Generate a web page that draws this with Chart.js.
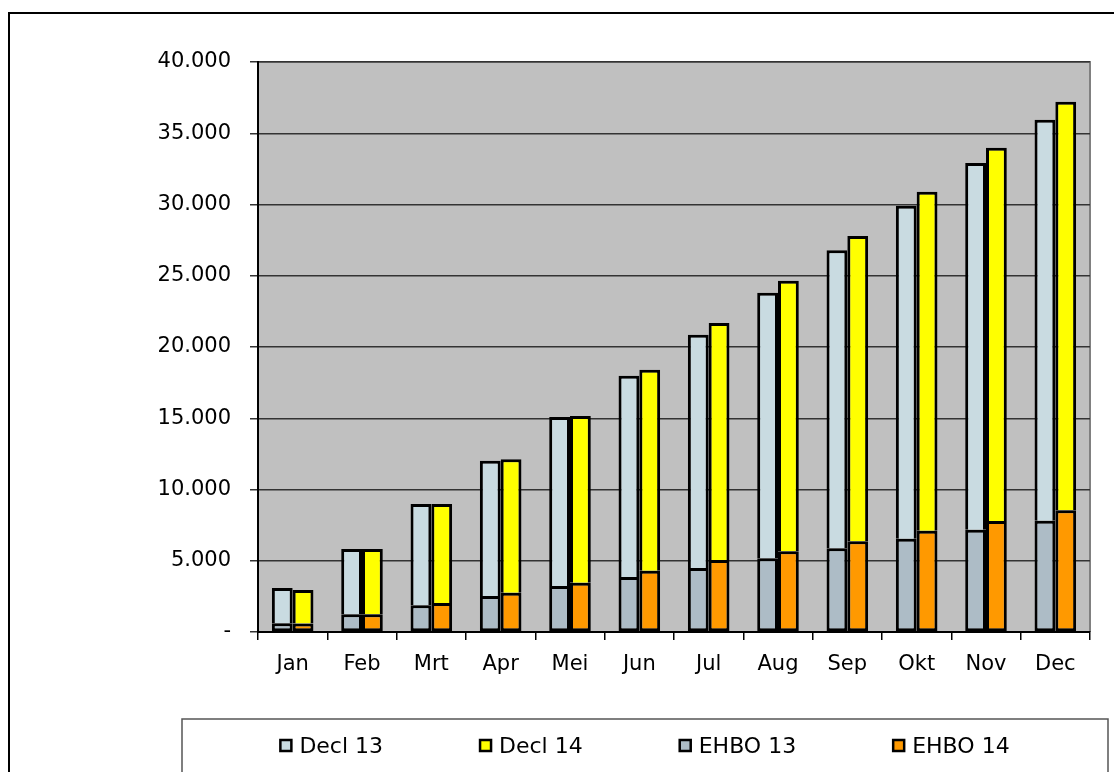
<!DOCTYPE html>
<html>
<head>
<meta charset="utf-8">
<script src="https://cdn.jsdelivr.net/npm/chart.js@4"></script>
<style>
  html, body { margin: 0; padding: 0; background: #fff; }
  #wrap { width: 1114px; height: 772px; position: relative; }
</style>
</head>
<body>
<div id="wrap"><canvas id="myChart"></canvas></div>
<script>
var maanden = ['Jan', 'Feb', 'Mrt', 'Apr', 'Mei', 'Jun', 'Jul', 'Aug', 'Sep', 'Okt', 'Nov', 'Dec'];

// top van de balk (totaal declaraties)
var decl13 = [3090, 5820, 8980, 12020, 15090, 17990, 20860, 23810, 26790, 29920, 32910, 35950];
var decl14 = [2950, 5820, 8980, 12120, 15160, 18410, 21680, 24650, 27790, 30900, 33990, 37210];
// onderste deel
var ehbo13 = [610, 1240, 1870, 2530, 3230, 3860, 4490, 5170, 5870, 6550, 7180, 7810];
var ehbo14 = [600, 1240, 2040, 2760, 3460, 4300, 5050, 5660, 6360, 7110, 7790, 8540];

var yTicks = [0, 5000, 10000, 15000, 20000, 25000, 30000, 35000, 40000];

function rest(tot, deel) {
  var r = [];
  for (var i = 0; i < tot.length; i++) r.push(tot[i] - deel[i]);
  return r;
}

function fmt(v) {
  if (v === 0) return '-';
  return String(v).replace(/\B(?=(\d{3})+(?!\d))/g, '.');
}

var kleuren = {
  decl13: '#C9DBE1',
  decl14: '#FFFF00',
  ehbo13: '#ADBCC6',
  ehbo14: '#FF9900'
};

var legendItems = [
  { label: 'Decl 13', color: kleuren.decl13 },
  { label: 'Decl 14', color: kleuren.decl14 },
  { label: 'EHBO 13', color: kleuren.ehbo13 },
  { label: 'EHBO 14', color: kleuren.ehbo14 }
];

var randOnder = { top: 3, left: 3, right: 3, bottom: 3 };
var randBoven = { top: 3, left: 3, right: 3, bottom: 0 };

var achtergrond = {
  id: 'achtergrond',
  beforeDraw: function(chart) {
    var c = chart.ctx, a = chart.chartArea;
    c.save();
    c.fillStyle = '#C0C0C0';
    c.fillRect(a.left, a.top, a.right - a.left, a.bottom - a.top);
    c.strokeStyle = '#808080';
    c.lineWidth = 2;
    c.beginPath();
    c.moveTo(a.left, a.top);
    c.lineTo(a.right, a.top);
    c.lineTo(a.right, a.bottom);
    c.stroke();
    c.restore();
  },
  afterDraw: function(chart) {
    var c = chart.ctx;
    c.save();
    // kader rond de grafiek
    c.strokeStyle = '#000';
    c.lineWidth = 2;
    c.beginPath();
    c.moveTo(9, 780);
    c.lineTo(9, 13);
    c.lineTo(1120, 13);
    c.stroke();
    // legenda
    c.strokeStyle = '#555';
    c.lineWidth = 1.5;
    c.beginPath();
    c.moveTo(182, 780);
    c.lineTo(182, 719);
    c.lineTo(1108, 719);
    c.lineTo(1108, 780);
    c.stroke();

    c.font = '22px "DejaVu Sans"';
    c.textBaseline = 'alphabetic';
    var gap = 97, box = 11, tw = 8;
    var total = 0;
    legendItems.forEach(function(it, i) {
      total += box + tw + c.measureText(it.label).width;
      if (i > 0) total += gap;
    });
    var x = (182 + 1108) / 2 - total / 2;
    legendItems.forEach(function(it) {
      c.fillStyle = it.color;
      c.fillRect(x, 740, box, box);
      c.strokeStyle = '#000';
      c.lineWidth = 2.5;
      c.strokeRect(x, 740, box, box);
      c.fillStyle = '#000';
      c.fillText(it.label, x + box + tw, 753);
      x += box + tw + c.measureText(it.label).width + gap;
    });
    c.restore();
  }
};

var ctx = document.getElementById('myChart').getContext('2d');

var chart = new Chart(ctx, {
  type: 'bar',
  data: {
    labels: maanden,
    datasets: [
      { label: 'EHBO 13', data: ehbo13, stack: 's13', backgroundColor: kleuren.ehbo13, borderWidth: randOnder },
      { label: 'Decl 13', data: rest(decl13, ehbo13), stack: 's13', backgroundColor: kleuren.decl13, borderWidth: randBoven },
      { label: 'EHBO 14', data: ehbo14, stack: 's14', backgroundColor: kleuren.ehbo14, borderWidth: randOnder },
      { label: 'Decl 14', data: rest(decl14, ehbo14), stack: 's14', backgroundColor: kleuren.decl14, borderWidth: randBoven }
    ]
  },
  options: {
    responsive: true,
    maintainAspectRatio: false,
    animation: false,
    layout: { padding: { top: 62, right: 24, bottom: 0, left: 0 } },
    datasets: {
      bar: {
        borderColor: '#000',
        borderSkipped: false,
        categoryPercentage: 0.6,
        barPercentage: 1.0
      }
    },
    plugins: {
      legend: { display: false },
      tooltip: { enabled: false }
    },
    scales: {
      x: {
        stacked: true,
        afterFit: function(s) { s.height = 140; },
        grid: {
          drawOnChartArea: false,
          drawTicks: true,
          tickLength: 8,
          color: '#000',
          lineWidth: 1.5
        },
        border: { color: '#000', width: 2 },
        ticks: {
          color: '#000',
          padding: 12,
          font: { family: 'DejaVu Sans', size: 21 }
        }
      },
      y: {
        stacked: true,
        min: 0,
        max: 40000,
        afterFit: function(s) { s.width = 258; },
        afterBuildTicks: function(s) {
          s.ticks = yTicks.map(function(v) { return { value: v }; });
        },
        grid: {
          color: '#333',
          lineWidth: 1.5,
          drawTicks: true,
          tickLength: 8
        },
        border: { color: '#000', width: 2 },
        ticks: {
          color: '#000',
          padding: 19,
          font: { family: 'DejaVu Sans', size: 21 },
          callback: function(v) { return fmt(v); }
        }
      }
    }
  },
  plugins: [achtergrond]
});
</script>
</body>
</html>
